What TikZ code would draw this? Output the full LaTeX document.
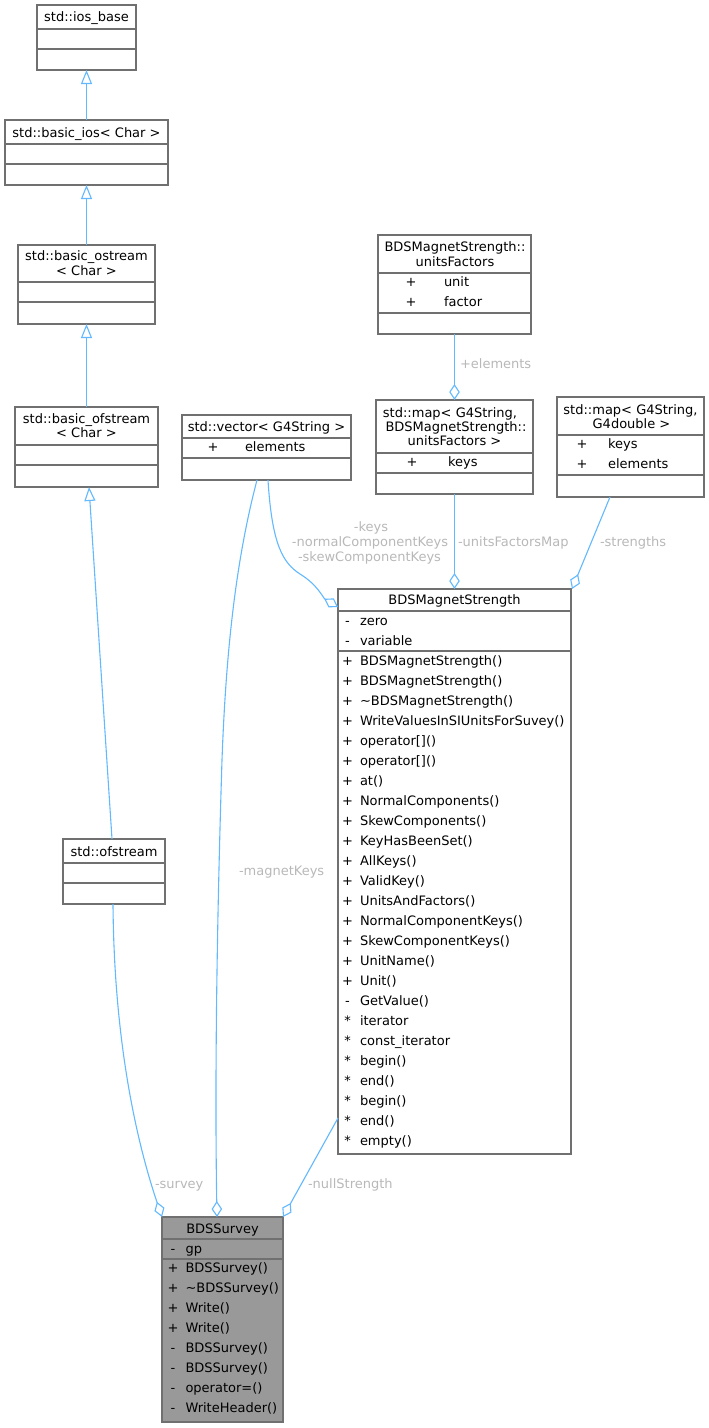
\documentclass[tikz,border=0pt]{standalone}
\usepackage{fontspec}
\setmainfont{DejaVu Sans}
\usetikzlibrary{arrows.meta}
\definecolor{edgec}{HTML}{63B8FF}
\definecolor{boxc}{HTML}{707070}
\definecolor{survfill}{HTML}{999999}
\definecolor{lblc}{HTML}{B8B8B8}
\newcommand{\dvf}{\fontsize{13pt}{15pt}\selectfont}
\tikzset{
  cls/.style={draw=boxc, line width=1.3pt, fill=white, inner sep=0pt, outer sep=0pt, anchor=north west},
  sepline/.style={draw=boxc, line width=1.3pt},
  t/.style={inner sep=0pt, outer sep=0pt, font=\dvf},
  hd/.style={t, anchor=base},
  lbl/.style={t, text=lblc, anchor=base west},
  inh/.style={draw=edgec, line width=1.1pt, -{Triangle[open, length=14pt, width=11pt]}},
  agg/.style={draw=edgec, line width=1.1pt, -{Diamond[open, length=16pt, width=10.5pt]}},
}
\begin{document}
\begin{tikzpicture}[x=1pt, y=-1pt]
\useasboundingbox (0,0) rectangle (709,1428);

% std::ios_base
\node[cls, minimum width=99pt, minimum height=65pt] (iosbase) at (37,5) {};
\draw[sepline] (37,29) -- (136,29);
\draw[sepline] (37,49) -- (136,49);
\node[hd] (iosbaseH) at (86.5,21.8) {std::ios\_base};

% std::basic_ios
\node[cls, minimum width=163pt, minimum height=65pt] (basicios) at (5,120) {};
\draw[sepline] (5,144) -- (168,144);
\draw[sepline] (5,164) -- (168,164);
\node[hd] (basiciosH) at (86.5,137.2) {std::basic\_ios< Char >};

% std::basic_ostream
\node[cls, minimum width=137pt, minimum height=79pt] (basicostream) at (18,245) {};
\draw[sepline] (18,282) -- (155,282);
\draw[sepline] (18,302) -- (155,302);
\node[hd] (basicostreamH1) at (86.5,260.5) {std::basic\_ostream};
\node[hd] (basicostreamH2) at (86.5,275.5) {< Char >};

% std::basic_ofstream
\node[cls, minimum width=143pt, minimum height=80pt] (basicofstream) at (15,407) {};
\draw[sepline] (15,445) -- (158,445);
\draw[sepline] (15,465) -- (158,465);
\node[hd] (basicofstreamH1) at (86.5,423.5) {std::basic\_ofstream};
\node[hd] (basicofstreamH2) at (86.5,437.8) {< Char >};

% std::ofstream
\node[cls, minimum width=102pt, minimum height=65pt] (ofstream) at (63,839) {};
\draw[sepline] (63,863) -- (165,863);
\draw[sepline] (63,883) -- (165,883);
\node[hd] (ofstreamH) at (114,856.2) {std::ofstream};

% std::vector< G4String >
\node[cls, minimum width=169pt, minimum height=65pt] (vec) at (182,415) {};
\draw[sepline] (182,438) -- (351,438);
\draw[sepline] (182,458) -- (351,458);
\node[hd] (vecH) at (266.5,431.5) {std::vector< G4String >};
\node[hd] (vecS1) at (213,451.5) {+};
\node[t, anchor=base west] (vecA1) at (245,451.5) {elements};

% BDSMagnetStrength::unitsFactors
\node[cls, minimum width=153pt, minimum height=99pt] (uf) at (378,235) {};
\draw[sepline] (378,273) -- (531,273);
\draw[sepline] (378,313) -- (531,313);
\node[hd] (ufH1) at (455,251.5) {BDSMagnetStrength::};
\node[hd] (ufH2) at (455,266.5) {unitsFactors};
\node[hd] (ufS1) at (411,286.5) {+};
\node[t, anchor=base west] (ufA1) at (444,286.5) {unit};
\node[hd] (ufS2) at (411,306) {+};
\node[t, anchor=base west] (ufA2) at (444,306) {factor};

% std::map< G4String, BDSMagnetStrength::unitsFactors >
\node[cls, minimum width=157pt, minimum height=94pt] (mapuf) at (376,400) {};
\draw[sepline] (376,453) -- (533,453);
\draw[sepline] (376,473) -- (533,473);
\node[hd] (mapufH1) at (450,417.5) {std::map< G4String,};
\node[hd] (mapufH2) at (456,431.5) {BDSMagnetStrength::};
\node[hd] (mapufH3) at (454.5,445.8) {unitsFactors >};
\node[hd] (mapufS1) at (412,466.5) {+};
\node[t, anchor=base west] (mapufA1) at (448,466.5) {keys};

% std::map< G4String, G4double >
\node[cls, minimum width=147pt, minimum height=100pt] (mapd) at (557,397) {};
\draw[sepline] (557,435) -- (704,435);
\draw[sepline] (557,475) -- (704,475);
\node[hd] (mapdH1) at (630.5,414.5) {std::map< G4String,};
\node[hd] (mapdH2) at (631.5,428.5) {G4double >};
\node[hd] (mapdS1) at (582,448.8) {+};
\node[t, anchor=base west] (mapdA1) at (608,448.8) {keys};
\node[hd] (mapdS2) at (582,468.8) {+};
\node[t, anchor=base west] (mapdA2) at (608,468.8) {elements};

% BDSMagnetStrength
\node[cls, minimum width=233pt, minimum height=565pt] (bms) at (338,589) {};
\draw[sepline] (338,611) -- (571,611);
\draw[sepline] (338,651) -- (571,651);
\node[hd] (bmsH) at (454.5,604.5) {BDSMagnetStrength};
\node[hd] (bmsAS1) at (347.5,625.2) {-};
\node[t, anchor=base west] (bmsA1) at (360,625.2) {zero};
\node[hd] (bmsAS2) at (347.5,645.2) {-};
\node[t, anchor=base west] (bmsA2) at (360,645.2) {variable};
\foreach \s/\m [count=\i from 0] in {
  +/BDSMagnetStrength(), +/BDSMagnetStrength(), +/\textasciitilde BDSMagnetStrength(),
  +/WriteValuesInSIUnitsForSuvey(), +/operator[](), +/operator[](), +/at(),
  +/NormalComponents(), +/SkewComponents(), +/KeyHasBeenSet(), +/AllKeys(),
  +/ValidKey(), +/UnitsAndFactors(), +/NormalComponentKeys(), +/SkewComponentKeys(),
  +/UnitName(), +/Unit(), -/GetValue(), */iterator, */const\_iterator,
  */begin(), */end(), */begin(), */end(), */empty()}
{
  \node[hd] (bmsMS\i) at (347.5,{665.2+20*\i}) {\s};
  \node[t, anchor=base west] (bmsM\i) at (360,{665.2+20*\i}) {\m};
}

% BDSSurvey
\node[cls, fill=survfill, minimum width=121pt, minimum height=205pt] (survey) at (162,1217) {};
\draw[sepline] (162,1239) -- (283,1239);
\draw[sepline] (162,1259) -- (283,1259);
\node[hd] (surveyH) at (222.5,1233) {BDSSurvey};
\node[hd] (surveyAS1) at (173,1253.5) {-};
\node[t, anchor=base west] (surveyA1) at (185.5,1253.5) {gp};
\foreach \s/\m [count=\i from 0] in {
  +/BDSSurvey(), +/\textasciitilde BDSSurvey(), +/Write(), +/Write(),
  -/BDSSurvey(), -/BDSSurvey(), -/operator=(), -/WriteHeader()}
{
  \node[hd] (surveyMS\i) at (173,{1272.8+20*\i}) {\s};
  \node[t, anchor=base west] (surveyM\i) at (185.5,{1272.8+20*\i}) {\m};
}

% inheritance
\draw[inh] (basicios.north) -- (iosbase.south);
\draw[inh] (basicostream.north) -- (basicios.south);
\draw[inh] (basicofstream.north) -- (basicostream.south);
\draw[inh] ([xshift=-2pt]ofstream.north) -- ([xshift=2.5pt]basicofstream.south);

% aggregation
\draw[agg] (uf.south) -- (mapuf.north);
\draw[agg] (mapuf.south) -- (bms.north);
\draw[agg] ([xshift=-20.5pt]mapd.south) -- ([xshift=1pt]bms.north east);
\draw[agg] ([xshift=1.5pt]vec.south) .. controls (272,545) and (283,563) .. (300,574)
  .. controls (318,585) and (323,598) .. ([yshift=-18pt]bms.north west);
\draw[agg] ([xshift=-9.5pt]vec.south) .. controls (236,560) and (226,650) .. (222,760)
  .. controls (216,950) and (215,1100) .. ([xshift=-5.5pt]survey.north);
\draw[agg] ([xshift=-1pt]ofstream.south) .. controls (114,1040) and (136,1140) .. (survey.north west);
\draw[agg] ([yshift=36pt]bms.south west) -- (survey.north east);

% labels
\node[lbl] (lElements) at (460,368.5) {+elements};
\node[t, text=lblc, anchor=base] (lKeys1) at (371,531.8) {-keys};
\node[t, text=lblc, anchor=base] (lKeys2) at (370,546.8) {-normalComponentKeys};
\node[t, text=lblc, anchor=base] (lKeys3) at (369.5,561.2) {-skewComponentKeys};
\node[lbl] (lUFMap) at (458,546.8) {-unitsFactorsMap};
\node[lbl] (lStrengths) at (600,546.8) {-strengths};
\node[lbl] (lMagnetKeys) at (239,875.2) {-magnetKeys};
\node[lbl] (lSurvey) at (155,1188.8) {-survey};
\node[lbl] (lNull) at (308,1188.8) {-nullStrength};
\end{tikzpicture}
\end{document}
